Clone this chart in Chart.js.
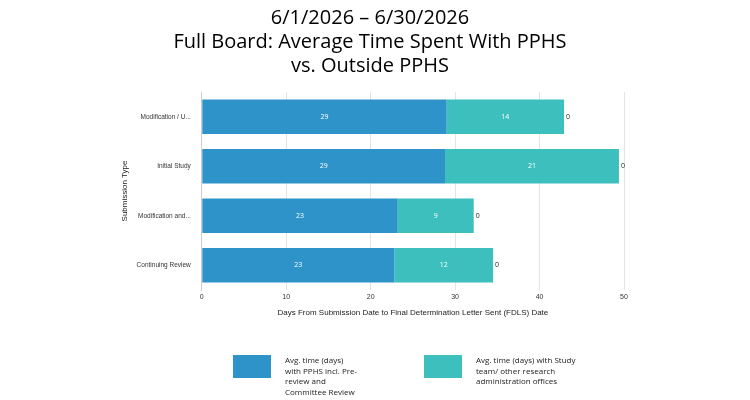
<!DOCTYPE html>
<html><head><meta charset="utf-8">
<script src="https://cdn.jsdelivr.net/npm/chart.js@4"></script>
<style>
body{margin:0;background:#fff;font-family:"Open Sans",Arial,sans-serif}
#wrap{position:relative;width:750px;height:400px}
.lg{position:absolute;display:flex;align-items:flex-start;font-size:8px;line-height:10.5px;color:#222}
.lg .b{width:38px;height:23px;margin-right:14px;flex:none}
</style></head><body>
<div id="wrap"><canvas id="c" width="750" height="400"></canvas>
<div class="lg" style="left:233px;top:355px;width:140px"><div class="b" style="background:#2E93C8"></div><div>Avg. time (days)<br>with PPHS incl. Pre-<br>review and<br>Committee Review</div></div>
<div class="lg" style="left:424px;top:355px;width:190px"><div class="b" style="background:#3DBFBD"></div><div>Avg. time (days) with Study<br>team/ other research<br>administration offices</div></div>
</div>
<script>
const categories=["Modification / U...","Initial Study","Modification and...","Continuing Review"];
const pphsDays=[29.0,28.8,23.2,22.8];
const outsideDays=[13.9,20.6,9.0,11.7];
const otherDays=[0,0,0,0];
const titleLines=["6/1/2026 – 6/30/2026","Full Board: Average Time Spent With PPHS","vs. Outside PPHS"];
const labels={id:'lbl',afterDatasetsDraw(ch){const c=ch.ctx;c.save();c.font='7px "Open Sans"';c.textBaseline='middle';
[0,1].forEach(d=>{ch.getDatasetMeta(d).data.forEach((b,i)=>{c.fillStyle='#fff';c.textAlign='center';c.fillText(Math.round(ch.data.datasets[d].data[i]),(b.x+b.base)/2,b.y);});});
ch.getDatasetMeta(1).data.forEach((b,i)=>{c.fillStyle='#222';c.textAlign='left';c.fillText(otherDays[i],b.x+2,b.y);});c.restore();}};
new Chart(document.getElementById('c'),{type:'bar',
data:{labels:categories,datasets:[
{label:'PPHS',data:pphsDays,backgroundColor:'#2E93C8'},
{label:'Outside',data:outsideDays,backgroundColor:'#3DBFBD'}]},
options:{indexAxis:'y',responsive:false,animation:false,
layout:{padding:{left:116,right:126,bottom:78,top:0}},
datasets:{bar:{barPercentage:0.7,categoryPercentage:1}},
plugins:{legend:{display:false},tooltip:{enabled:false},
title:{display:true,text:titleLines,color:'#000',font:{size:20,family:'"Open Sans"',weight:'normal'},padding:{top:6,bottom:14},lineHeight:1.35}},
scales:{x:{stacked:true,min:0,max:50,ticks:{stepSize:10,color:'#333',font:{size:7}},grid:{color:'#e4e4e4',drawTicks:false},border:{display:false},
title:{display:true,text:'Days From Submission Date to Final Determination Letter Sent (FDLS) Date',color:'#222',font:{size:8}}},
y:{stacked:true,ticks:{color:'#333',font:{size:6.5}},grid:{display:false},border:{color:'#ccc'},
title:{display:true,text:'Submission Type',color:'#222',font:{size:8}}}}},
plugins:[labels]});
</script></body></html>
